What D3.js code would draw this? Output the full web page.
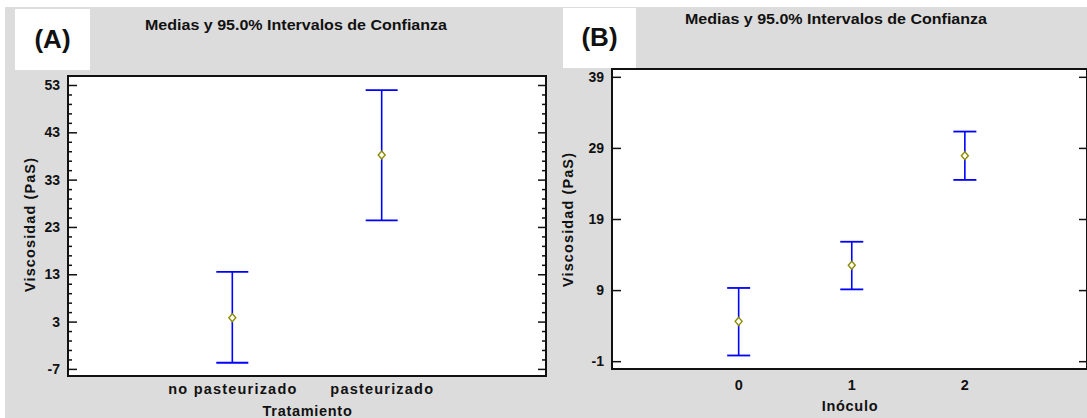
<!DOCTYPE html>
<html>
<head>
<meta charset="utf-8">
<script src="https://cdn.jsdelivr.net/npm/d3@7"></script>
<style>
  body { margin: 0; background: #fff; }
  text { font-family: "Liberation Sans", Arial, sans-serif; font-weight: bold; fill: #111; }
</style>
</head>
<body>
<svg id="chart" width="1087" height="418"></svg>
<script>
// panel A: Tratamiento
const catsA = ["no pasteurizado", "pasteurizado"];
const meanA = [3.8, 38.2];
const lowA = [-5.7, 24.4];
const highA = [13.5, 51.9];
const ticksA = [-7, 3, 13, 23, 33, 43, 53];

// panel B: Inóculo
const catsB = ["0", "1", "2"];
const meanB = [4.6, 12.5, 27.9];
const lowB = [-0.2, 9.1, 24.5];
const highB = [9.3, 15.8, 31.3];
const ticksB = [-1, 9, 19, 29, 39];

const svg = d3.select("#chart");

// gray background
svg.append("rect").attr("x", 5).attr("y", 7).attr("width", 1082).attr("height", 411).style("fill", "#dcdcdc");

let drawPanel = (opt) => {
    const g = svg.append("g");
    const x = d3.scaleLinear().domain(opt.xDomain).range([opt.left, opt.right]);
    const y = d3.scaleLinear().domain(opt.yDomain).range([opt.bottom, opt.top]);

    // label box
    g.append("rect").attr("x", opt.box[0]).attr("y", opt.box[1]).attr("width", opt.box[2]).attr("height", opt.box[3]).style("fill", "#fff");
    g.append("text").attr("x", opt.box[0] + opt.box[2] / 2).attr("y", opt.labelY)
        .attr("text-anchor", "middle").style("font-size", "26px").text(opt.label);

    g.append("text").attr("x", opt.titleX).attr("y", opt.titleY).attr("text-anchor", "middle")
        .attr("textLength", 302).attr("lengthAdjust", "spacingAndGlyphs")
        .style("font-size", "15px").text("Medias y 95.0% Intervalos de Confianza");

    // plot area
    g.append("rect").attr("x", opt.left).attr("y", opt.top)
        .attr("width", opt.right - opt.left).attr("height", opt.bottom - opt.top)
        .style("fill", "#fff");

    const minor = d3.range(opt.yDomain[0], opt.yDomain[1], 0.5).map(v => Math.round(v * 10) / 10)
        .filter(v => ((v - opt.ticks[0]) % 2 === 0) && !opt.ticks.includes(v) && v >= opt.ticks[0] - 0.01 && v <= opt.ticks[opt.ticks.length - 1]);

    // left axis
    const left = g.append("g").attr("transform", `translate(${opt.left},0)`)
        .call(d3.axisLeft(y).tickValues(opt.ticks).tickSize(-9).tickPadding(8).tickFormat(d => String(d)));
    left.select(".domain").remove();
    left.selectAll("line").style("stroke", "#111").style("stroke-width", 1.5);
    left.selectAll("text").style("font-size", "14px").style("fill", "#111");
    g.append("g").attr("transform", `translate(${opt.left},0)`)
        .call(d3.axisLeft(y).tickValues(minor).tickSize(-4).tickFormat(""))
        .call(a => a.select(".domain").remove())
        .selectAll("line").style("stroke", "#111").style("stroke-width", 1.5);

    // right axis, ticks inward
    g.append("g").attr("transform", `translate(${opt.right},0)`)
        .call(d3.axisRight(y).tickValues(opt.ticks).tickSize(-8).tickFormat(""))
        .call(a => a.select(".domain").remove())
        .selectAll("line").style("stroke", "#111").style("stroke-width", 1.5);
    g.append("g").attr("transform", `translate(${opt.right},0)`)
        .call(d3.axisRight(y).tickValues(minor).tickSize(-4).tickFormat(""))
        .call(a => a.select(".domain").remove())
        .selectAll("line").style("stroke", "#111").style("stroke-width", 1.5);

    g.append("rect").attr("x", opt.left).attr("y", opt.top)
        .attr("width", opt.right - opt.left).attr("height", opt.bottom - opt.top)
        .style("fill", "none").style("stroke", "#111").style("stroke-width", 2);

    // error bars
    const bars = g.selectAll(".bar").data(opt.cats).enter().append("g").attr("class", "bar");
    bars.append("line")
        .attr("x1", (d, i) => x(i)).attr("x2", (d, i) => x(i))
        .attr("y1", (d, i) => y(opt.high[i])).attr("y2", (d, i) => y(opt.low[i]))
        .style("stroke", "#0000ff").style("stroke-width", 1.6);
    [opt.high, opt.low].forEach(arr => {
        bars.append("line")
            .attr("x1", (d, i) => x(i) - opt.cap).attr("x2", (d, i) => x(i) + opt.cap)
            .attr("y1", (d, i) => y(arr[i])).attr("y2", (d, i) => y(arr[i]))
            .style("stroke", "#0000ff").style("stroke-width", 1.8);
    });
    bars.append("path")
        .attr("d", (d, i) => {
            const cx = x(i), cy = y(opt.mean[i]);
            return `M${cx},${cy - 4}L${cx + 3.5},${cy}L${cx},${cy + 4}L${cx - 3.5},${cy}Z`;
        })
        .style("fill", "#fff").style("stroke", "#8c8c00").style("stroke-width", 1.4);

    // x labels
    g.selectAll(".xl").data(opt.cats).enter().append("text")
        .attr("x", (d, i) => x(i) + 0.6).attr("y", opt.xLabelY).attr("text-anchor", "middle")
        .style("font-size", "14.5px").style("letter-spacing", "1.2px").text(d => d);
    g.append("text").attr("x", (opt.left + opt.right) / 2 + 0.5).attr("y", opt.xTitleY)
        .attr("text-anchor", "middle").style("font-size", "14.5px").style("letter-spacing", "0.7px").text(opt.xTitle);

    g.append("text").attr("transform", `translate(${opt.yTitleX},${opt.yTitleY}) rotate(-90)`)
        .attr("text-anchor", "middle").attr("textLength", 134).attr("lengthAdjust", "spacing")
        .style("font-size", "14.5px").text("Viscosidad (PaS)");
};

drawPanel({
    cats: catsA, mean: meanA, low: lowA, high: highA, ticks: ticksA,
    xDomain: [-1.1, 2.1], yDomain: [-8.5, 54.9],
    left: 68, right: 546, top: 76, bottom: 376,
    box: [15, 9, 75, 61], label: "(A)", labelY: 48,
    titleX: 296, titleY: 30, cap: 16,
    xLabelY: 394, xTitleY: 416, xTitle: "Tratamiento",
    yTitleX: 35, yTitleY: 225
});

drawPanel({
    cats: catsB, mean: meanB, low: lowB, high: highB, ticks: ticksB,
    xDomain: [-1.12, 3.08], yDomain: [-2.1, 40.1],
    left: 612, right: 1087, top: 69, bottom: 369,
    box: [563, 8, 73, 60], label: "(B)", labelY: 46,
    titleX: 836, titleY: 24, cap: 11.5,
    xLabelY: 390, xTitleY: 411, xTitle: "Inóculo",
    yTitleX: 573, yTitleY: 220
});
</script>
</body>
</html>
